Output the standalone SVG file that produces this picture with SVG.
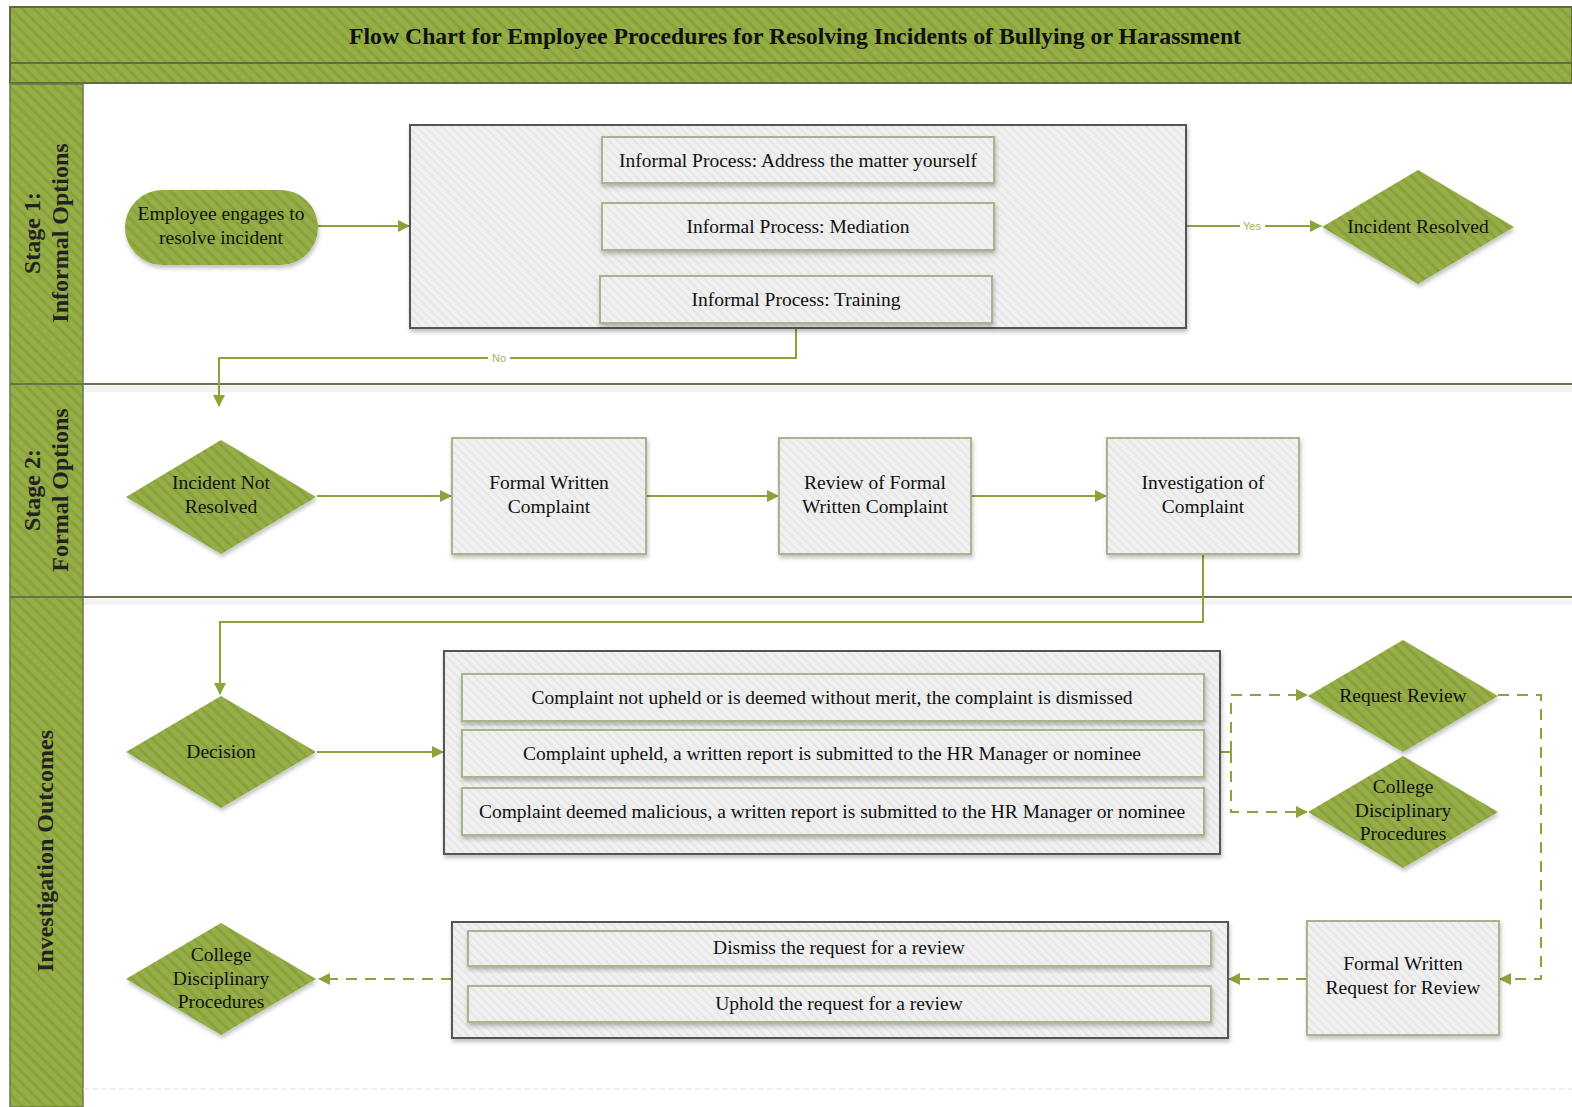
<svg xmlns="http://www.w3.org/2000/svg" width="1572" height="1107" viewBox="0 0 1572 1107">
<defs>
<pattern id="gh" patternUnits="userSpaceOnUse" width="8" height="8" patternTransform="rotate(-45)">
<rect width="8" height="8" fill="#95AE46"/>
<rect width="3" height="8" fill="#8AA23D"/>
</pattern>
<pattern id="gr" patternUnits="userSpaceOnUse" width="6" height="6" patternTransform="rotate(-45)">
<rect width="6" height="6" fill="#F0F0F0"/>
<rect width="2" height="6" fill="#E6E6E6"/>
</pattern>
<filter id="sh" x="-10%" y="-10%" width="125%" height="130%">
<feDropShadow dx="1" dy="3" stdDeviation="2" flood-color="#000" flood-opacity="0.25"/>
</filter>
<marker id="ar" markerUnits="userSpaceOnUse" markerWidth="12" markerHeight="12" viewBox="0 0 12 12" refX="11" refY="6" orient="auto">
<path d="M0,0 L12,6 L0,12 Z" fill="#8AA33A"/>
</marker>
</defs>
<style>
.t{font-family:"Liberation Serif","Times New Roman",serif;fill:#111;text-anchor:middle;font-size:19.5px}
.bx{fill:url(#gr);stroke:#A7B58A;stroke-width:2;filter:url(#sh)}
.ct{fill:url(#gr);stroke:#555;stroke-width:2;filter:url(#sh)}
.dm{fill:url(#gh);filter:url(#sh)}
.c{fill:none;stroke:#8AA33A;stroke-width:2}
.d{stroke-dasharray:11 8}
.lb{font-family:"Liberation Sans",Arial,sans-serif;font-size:11px;fill:#9BB45A;text-anchor:middle}
.ln{font-family:"Liberation Serif","Times New Roman",serif;font-weight:bold;font-size:24px;fill:#222;text-anchor:middle}
</style>
<rect width="1572" height="1107" fill="#fff"/>
<g id="pool">
<rect x="10" y="7" width="1562" height="56" fill="url(#gh)" stroke="#5E6B45" stroke-width="2"/>
<rect x="10" y="63" width="1562" height="20" fill="url(#gh)" stroke="#5E6B45" stroke-width="2"/>
<text class="t" x="795" y="44" style="font-size:24px;font-weight:bold" textLength="892" lengthAdjust="spacingAndGlyphs">Flow Chart for Employee Procedures for Resolving Incidents of Bullying or Harassment</text>
<rect x="10" y="84" width="73" height="1023" fill="url(#gh)" stroke="#6B7A4C" stroke-width="1.5"/>
<rect x="83" y="386" width="1489" height="6" fill="#000" opacity="0.05"/>
<rect x="83" y="599" width="1489" height="6" fill="#000" opacity="0.05"/>
<line x1="10" y1="384" x2="1572" y2="384" stroke="#66744B" stroke-width="2"/>
<line x1="10" y1="597" x2="1572" y2="597" stroke="#66744B" stroke-width="2"/>
<line x1="83" y1="1089" x2="1572" y2="1089" stroke="#DDDDDD" stroke-width="1" stroke-dasharray="6 3"/>
<text class="ln" transform="translate(40,233) rotate(-90)">Stage 1:</text>
<text class="ln" transform="translate(68,233) rotate(-90)">Informal Options</text>
<text class="ln" transform="translate(40,490) rotate(-90)">Stage 2:</text>
<text class="ln" transform="translate(68,490) rotate(-90)">Formal Options</text>
<text class="ln" transform="translate(53,851) rotate(-90)">Investigation Outcomes</text>
</g>
<g id="connectors">
<path class="c" d="M318,226 H409" marker-end="url(#ar)"/>
<path class="c" d="M1186,226 H1321" marker-end="url(#ar)"/>
<path class="c" d="M796,323 V358 H219 V406" marker-end="url(#ar)"/>
<path class="c" d="M317,496 H451" marker-end="url(#ar)"/>
<path class="c" d="M646,496 H778" marker-end="url(#ar)"/>
<path class="c" d="M971,496 H1106" marker-end="url(#ar)"/>
<path class="c" d="M1203,554 V622 H220 V694" marker-end="url(#ar)"/>
<path class="c" d="M317,752 H443" marker-end="url(#ar)"/>
<path class="c" d="M1220,752 H1231"/>
<path class="c d" d="M1231,752 V695 H1307" marker-end="url(#ar)"/>
<path class="c d" d="M1231,752 V812 H1307" marker-end="url(#ar)"/>
<path class="c d" d="M1498,695 H1541 V979 H1500" marker-end="url(#ar)"/>
<path class="c d" d="M1307,979 H1229" marker-end="url(#ar)"/>
<path class="c d" d="M452,979 H319" marker-end="url(#ar)"/>
<rect x="1240" y="219" width="25" height="13" fill="#fff"/>
<text class="lb" x="1252" y="230">Yes</text>
<rect x="488" y="351" width="22" height="13" fill="#fff"/>
<text class="lb" x="499" y="362">No</text>
</g>
<g id="n-start">
<rect x="125" y="190" width="193" height="75" rx="37.5" fill="url(#gh)" filter="url(#sh)"/>
<text class="t" x="221" y="220">Employee engages to</text>
<text class="t" x="221" y="244">resolve incident</text>
</g>
<g id="n-informal">
<rect class="ct" x="410" y="125" width="776" height="203"/>
</g>
<g id="n-address">
<rect class="bx" x="602" y="137" width="392" height="46"/>
<text class="t" x="798" y="167">Informal Process: Address the matter yourself</text>
</g>
<g id="n-mediation">
<rect class="bx" x="602" y="203" width="392" height="47"/>
<text class="t" x="798" y="233">Informal Process: Mediation</text>
</g>
<g id="n-training">
<rect class="bx" x="600" y="276" width="392" height="47"/>
<text class="t" x="796" y="306">Informal Process: Training</text>
</g>
<g id="n-resolved">
<polygon class="dm" points="1418,170 1514,227 1418,284 1322,227"/>
<text class="t" x="1418" y="233">Incident Resolved</text>
</g>
<g id="n-notresolved">
<polygon class="dm" points="221,440 316,497 221,554 126,497"/>
<text class="t" x="221" y="489">Incident Not</text>
<text class="t" x="221" y="513">Resolved</text>
</g>
<g id="n-fwc">
<rect class="bx" x="452" y="438" width="194" height="116"/>
<text class="t" x="549" y="489">Formal Written</text>
<text class="t" x="549" y="513">Complaint</text>
</g>
<g id="n-review">
<rect class="bx" x="779" y="438" width="192" height="116"/>
<text class="t" x="875" y="489">Review of Formal</text>
<text class="t" x="875" y="513">Written Complaint</text>
</g>
<g id="n-investigation">
<rect class="bx" x="1107" y="438" width="192" height="116"/>
<text class="t" x="1203" y="489">Investigation of</text>
<text class="t" x="1203" y="513">Complaint</text>
</g>
<g id="n-decision">
<polygon class="dm" points="221,696 316,752 221,808 126,752"/>
<text class="t" x="221" y="758">Decision</text>
</g>
<g id="n-outcomes">
<rect class="ct" x="444" y="651" width="776" height="203"/>
</g>
<g id="n-notupheld">
<rect class="bx" x="462" y="674" width="742" height="47"/>
<text class="t" x="832" y="704">Complaint not upheld or is deemed without merit, the complaint is dismissed</text>
</g>
<g id="n-upheld">
<rect class="bx" x="462" y="730" width="742" height="47"/>
<text class="t" x="832" y="760">Complaint upheld, a written report is submitted to the HR Manager or nominee</text>
</g>
<g id="n-malicious">
<rect class="bx" x="462" y="788" width="742" height="47"/>
<text class="t" x="832" y="818">Complaint deemed malicious, a written report is submitted to the HR Manager or nominee</text>
</g>
<g id="n-requestreview">
<polygon class="dm" points="1403,640 1498,696 1403,752 1308,696"/>
<text class="t" x="1403" y="702">Request Review</text>
</g>
<g id="n-college1">
<polygon class="dm" points="1403,756 1498,812 1403,868 1308,812"/>
<text class="t" x="1403" y="793">College</text>
<text class="t" x="1403" y="817">Disciplinary</text>
<text class="t" x="1403" y="840">Procedures</text>
</g>
<g id="n-fwrr">
<rect class="bx" x="1307" y="921" width="192" height="114"/>
<text class="t" x="1403" y="970">Formal Written</text>
<text class="t" x="1403" y="994">Request for Review</text>
</g>
<g id="n-reviewresult">
<rect class="ct" x="452" y="922" width="776" height="116"/>
</g>
<g id="n-dismiss">
<rect class="bx" x="468" y="931" width="743" height="35"/>
<text class="t" x="839" y="954">Dismiss the request for a review</text>
</g>
<g id="n-uphold">
<rect class="bx" x="468" y="986" width="743" height="36"/>
<text class="t" x="839" y="1010">Uphold the request for a review</text>
</g>
<g id="n-college2">
<polygon class="dm" points="221,923 316,979 221,1035 126,979"/>
<text class="t" x="221" y="961">College</text>
<text class="t" x="221" y="985">Disciplinary</text>
<text class="t" x="221" y="1008">Procedures</text>
</g>
</svg>
